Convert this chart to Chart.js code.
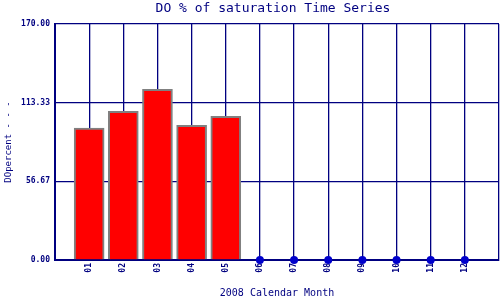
<!DOCTYPE html>
<html>
<head>
<meta charset="utf-8">
<script src="https://cdn.jsdelivr.net/npm/chart.js@4"></script>
<style>
  html, body { margin: 0; padding: 0; background: #fff; }
  #wrap { width: 500px; height: 300px; }
</style>
</head>
<body>
<div id="wrap"><canvas id="c"></canvas></div>
<script>
// Données (DO % de saturation, 2008)
const months     = ['01', '02', '03', '04', '05', '06', '07', '08', '09', '10', '11', '12'];
const doPercent  = [95, 107.1, 123, 97, 103.5, null, null, null, null, null, null, null];
const noDataMark = [null, null, null, null, null, 0, 0, 0, 0, 0, 0, 0];
const yTicks     = [0, 56.67, 113.33, 170];
const TITLE      = 'DO % of saturation Time Series';

const NAVY = '#000080';
const FONT = "'DejaVu Sans Mono', monospace";

// positions 1..12 sur un axe linéaire 0..13 (0 et 13 = bords du cadre)
const barPts  = doPercent.map((v, i) => ({ x: i + 1, y: v })).filter(p => p.y !== null);
const markPts = noDataMark.map((v, i) => ({ x: i + 1, y: v })).filter(p => p.y !== null);

// Titre centré sur la zone de tracé (et non sur le canvas)
const plotTitle = {
  id: 'plotTitle',
  afterDraw(chart) {
    const { ctx, chartArea } = chart;
    ctx.save();
    ctx.font = `13px ${FONT}`;
    ctx.fillStyle = NAVY;
    ctx.textAlign = 'center';
    ctx.textBaseline = 'middle';
    ctx.fillText(TITLE, (chartArea.left + chartArea.right) / 2 - 4, 9);
    ctx.restore();
  },
};

new Chart(document.getElementById('c'), {
  data: {
    datasets: [
      {
        type: 'bar',
        data: barPts,
        backgroundColor: '#ff0000',
        borderColor: '#808080',
        borderWidth: 2,
        barThickness: 30,
      },
      {
        type: 'scatter',
        data: markPts,
        pointRadius: 4,
        pointBackgroundColor: '#0000cc',
        pointBorderColor: '#0000cc',
        pointBorderWidth: 0,
        clip: false,
      },
    ],
  },
  plugins: [plotTitle],
  options: {
    responsive: true,
    maintainAspectRatio: false,
    animation: false,
    layout: { autoPadding: false, padding: { top: 24, right: 1, bottom: 0, left: 0 } },
    plugins: {
      legend: { display: false },
      tooltip: { enabled: false },
    },
    scales: {
      x: {
        type: 'linear',
        min: 0,
        max: 13,
        offset: false,
        afterBuildTicks: (s) => {
          s.ticks = [0, ...months.map((m, i) => i + 1), 13].map(v => ({ value: v }));
        },
        afterFit: (s) => {
          s.height = 40;
          s.paddingLeft = 0;
          s.paddingRight = 0;
        },
        ticks: {
          autoSkip: false,
          color: NAVY,
          font: { family: FONT, size: 8, weight: 'bold' },
          minRotation: 90,
          maxRotation: 90,
          padding: 3,
          callback: (v) => months[v - 1] || '',
        },
        grid: { color: NAVY, lineWidth: 1.3, drawTicks: false, offset: false },
        border: { color: NAVY, width: 2 },
        title: {
          display: true,
          text: '2008 Calendar Month',
          color: NAVY,
          font: { family: FONT, size: 10, weight: 'normal' },
          padding: { top: 0, bottom: 1 },
        },
      },
      y: {
        min: 0,
        max: 170,
        afterBuildTicks: (s) => { s.ticks = yTicks.map(v => ({ value: v })); },
        afterFit: (s) => { s.width = 55; },
        ticks: {
          color: NAVY,
          font: { family: FONT, size: 8, weight: 'bold' },
          padding: 5,
          callback: (v) => v.toFixed(2),
        },
        grid: { color: NAVY, lineWidth: 1.3, drawTicks: false },
        border: { color: NAVY, width: 2 },
        title: {
          display: true,
          text: 'DOpercent - - -',
          color: NAVY,
          font: { family: FONT, size: 9, weight: 'normal' },
          padding: { top: 3, bottom: 0 },
        },
      },
    },
  },
});
</script>
</body>
</html>
